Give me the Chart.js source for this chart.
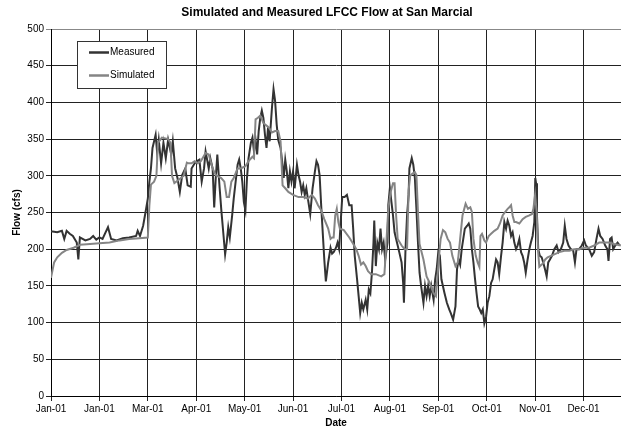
<!DOCTYPE html>
<html><head><meta charset="utf-8">
<script src="https://cdn.jsdelivr.net/npm/chart.js@4/dist/chart.umd.min.js"></script>
<style>html,body{margin:0;padding:0;background:#fff}#wrap{width:621px;height:431px}</style>
</head><body><div id="wrap"><canvas id="c" width="621" height="431"></canvas></div>
<script>
const chartTitle = 'Simulated and Measured LFCC Flow at San Marcial';
const xTitle = 'Date';
const yTitle = 'Flow (cfs)';
const xTickLabels = ['Jan-01','Jan-01','Mar-01','Apr-01','May-01','Jun-01','Jul-01','Aug-01','Sep-01','Oct-01','Nov-01','Dec-01'];
const tickStepDays = 31;
const yTicksMax = 500;

const measuredDays = [0,1,4,7,8.5,10,12,14,16.5,17.5,18.5,22,25,27,29,31,33,36.5,38.5,42,46,50,54.5,55.5,57,59,60.5,62,63,64,65,67,68,69,70.5,72,73.5,75,77,78,79.5,81,82.5,84,86,87.5,
89.5,90,92,93.5,95,96.5,98,99,101,102,103.5,104.5,105.5,106.5,108,109,110.5,111.5,112.5,113.5,114.5,116,117,118.5,119.5,120.5,121.5,122.5,123.5,124.5,125.5,126.5,128,129,130,131,132,133,134,135,136,137,138,139,140,141.5,142.5,143.5,144.5,145.5,147,148,149,150,151,152,153,154,155,156,157.5,158.5,159.5,160.5,161.5,162.5,163.5,164.5,166,167.5,169,170,171,172,173,174,175,176,177.5,179,180,
181,182.5,183.5,184.5,185.5,186.5,188,189.5,191,192.5,193.5,194.5,196,197,198,199,200,201.5,202.5,203.5,204.5,205.5,206.5,207,208,209,210,211,212,213,214,215.5,216,217,218,219,220,221,222,223,224.5,225.5,226,227,228,229,229.5,231,232,233,234,235,236,237,238.5,239.5,240.5,241.5,242.5,243.5,245,246,247,248,249,250,252,253.5,255,256,257.5,259,260,261,262,263,264,265,266.5,267.5,268.5,269.5,270.5,271.5,272.5,273.5,274.5,275.5,276.5,277.5,278.6,279.6,280.7,281.8,282.8,283.9,285,286,287,288.2,289.2,290.3,291.4,292.4,293.5,294.6,295.6,296.7,297.8,298.8,299.9,301,302,303,304,305.2,306.3,307.3,308.4,309.5,310.1,310.6,311.2,312,313,314.2,315.2,316.3,317.4,318.4,319.5,320.8,322.3,323.8,325,326.5,328,329,330.1,331.4,332.9,334.4,335.5,336.5,338.2,339.9,341.4,342.5,344.6,346.3,347.8,349.3,350.6,351.7,353.2,354.9,356.3,357,358,359,360,361.3,362.8,364.2];
const measuredFlow = [224,224,223,225,214,225,221,218,209,186,216,212,214,218,213,216,214,230,214,212,215,216,218,225,218,232,250,269,292,310,338,356,331,349,317,345,324,349,329,347,310,297,278,301,310,287,
285,310,317,320,322,292,310,333,310,324,310,257,297,329,283,255,218,193,209,230,216,246,269,297,315,322,310,292,264,253,297,324,345,352,333,349,329,361,379,389,379,356,338,366,347,393,418,402,370,349,338,320,297,322,306,283,306,292,306,283,315,301,292,278,287,274,283,269,248,283,306,320,315,301,260,223,186,156,182,202,194,
196,202,209,200,237,271,271,274,260,260,228,191,159,136,113,127,118,131,118,145,140,168,209,239,177,209,200,228,200,209,186,209,260,283,264,246,223,214,205,196,182,154,127,200,246,274,310,324,315,297,255,209,168,150,127,150,136,150,136,150,131,159,173,196,191,159,140,127,118,113,104,122,173,186,179,200,214,228,232,235,228,200,182,160,140,122,118,113,118,99,108,127,136,154,159,173,186,182,166,191,209,237,228,239,232,218,223,209,200,205,214,196,191,182,168,186,200,209,218,237,297,290,246,200,191,189,182,173,163,182,186,191,200,205,196,200,209,232,214,205,200,198,182,200,200,205,212,205,200,191,196,214,228,218,214,205,200,184,214,216,200,205,209,205];

const simulatedDays = [0,2,4,7,10,14.5,18.5,25,31,37.5,44,50,56.5,62,63,64,66,67.5,68.5,71,75,76.5,77.5,79,82,85,87,
88,90,92,94,96,99,101,103.5,105.5,109,111,112.5,114,115.5,117,119.5,121.5,124.5,126.5,129,130,131,132.5,134,136,137,139.5,141.5,143.5,145.5,147,148.3,150,152,155,158.5,161.5,164.5,167,169,171,173,175,177.5,179,180,
181,182,183,184,185,187.5,191,193,195.5,197,198.5,200,201.5,203,205,208,211.5,213.5,214.5,216,217.5,219,220,221,222,224.5,226.5,228,229,230,231.5,233,234,235,236,238.5,240.5,242.5,245,246.5,247.5,248.5,249.5,251,252.5,254,255.5,257,259,260.5,262,263.5,265.5,267,268.5,269.5,270.5,272,273.2,274.3,275,276,277.5,278.6,280.3,281.8,283.9,286,287.5,289.2,290.9,292.4,293.5,294.6,295.6,296.7,297.8,299.9,302,304,306.3,308,308.9,310,311,311.8,312.7,313.7,314.8,316.5,318,320.1,322.3,325.5,328.7,331.9,335,338.2,341.4,344.6,347.8,351,354.2,357.4,360.6,364.9];
const simulatedFlow = [161,182,189,195,199,202,206,207,208,209,212,214,215,216,260,288,292,300,345,352,350,345,300,290,295,300,318,
317,317,320,317,320,331,329,310,301,297,292,271,271,292,297,310,310,313,320,326,324,377,379,382,372,370,366,359,361,361,347,287,283,278,274,271,271,269,274,269,260,253,241,228,214,216,
216,246,255,237,228,226,216,209,200,191,179,182,177,170,166,166,163,166,200,255,278,290,290,246,214,205,200,200,280,300,303,305,301,250,207,186,163,154,140,136,163,191,214,226,223,214,209,191,177,182,214,246,262,255,257,251,214,191,182,176,218,221,212,209,218,221,225,228,235,246,251,255,257,260,246,237,237,235,241,244,246,248,255,274,251,200,176,178,180,186,189,191,193,196,198,198,200,200,202,202,205,209,209,209,207,205];

const FONT = "'Liberation Sans', Arial, sans-serif";
const toXY = (xs, ys) => xs.map((x, i) => ({x: x, y: ys[i]}));

const overlay = {
  id: 'overlay',
  afterDraw(chart) {
    const ctx = chart.ctx;
    ctx.save();
    ctx.fillStyle = '#000';
    ctx.font = 'bold 12px ' + FONT;
    ctx.textAlign = 'center';
    ctx.textBaseline = 'middle';
    ctx.fillText(chartTitle, 327, 13);
    // legend box
    ctx.fillStyle = '#fff';
    ctx.fillRect(77, 41, 89, 47);
    ctx.strokeStyle = '#333';
    ctx.lineWidth = 1;
    ctx.strokeRect(77.5, 41.5, 89, 47);
    const rows = [52.5, 75.5];
    ctx.font = '10px ' + FONT;
    ctx.textAlign = 'left';
    chart.data.datasets.forEach((ds, i) => {
      ctx.strokeStyle = ds.borderColor;
      ctx.lineWidth = 2.5;
      ctx.beginPath();
      ctx.moveTo(89, rows[i]);
      ctx.lineTo(109, rows[i]);
      ctx.stroke();
      ctx.fillStyle = '#000';
      ctx.fillText(ds.label, 110, rows[i]);
    });
    ctx.restore();
  }
};

new Chart(document.getElementById('c'), {
  type: 'line',
  data: {
    datasets: [
      {label: 'Measured', data: toXY(measuredDays, measuredFlow), borderColor: '#333333', borderWidth: 2, pointRadius: 0, tension: 0, fill: false, order: 2},
      {label: 'Simulated', data: toXY(simulatedDays, simulatedFlow), borderColor: '#858585', borderWidth: 2, pointRadius: 0, tension: 0, fill: false, order: 1}
    ]
  },
  options: {
    responsive: false,
    animation: false,
    devicePixelRatio: 1,
    layout: {padding: {top: 29, right: 0, left: 0, bottom: 0}},
    plugins: {legend: {display: false}, title: {display: false}, tooltip: {enabled: false}},
    scales: {
      x: {
        type: 'linear', min: 0, max: 365,
        afterFit: s => { s.height = 35; },
        grid: {color: '#222', lineWidth: 1, tickLength: 5, drawTicks: true},
        border: {color: '#000', width: 1},
        ticks: {
          stepSize: tickStepDays, includeBounds: false, autoSkip: false, maxRotation: 0, padding: 2,
          color: '#000', font: {family: FONT, size: 10},
          callback: v => { const i = Math.round(v / tickStepDays); return (Math.abs(v - i * tickStepDays) < 0.01 && xTickLabels[i]) ? xTickLabels[i] : ''; }
        },
        title: {display: true, text: xTitle, color: '#000', font: {family: FONT, size: 10, weight: 'bold'}, padding: {top: 0, bottom: 2}}
      },
      y: {
        min: 0, max: yTicksMax,
        afterFit: s => { s.width = 51; },
        grid: {color: c => (c.tick && c.tick.value === yTicksMax) ? '#888' : '#222', lineWidth: 1, tickLength: 5, drawTicks: true},
        border: {color: '#000', width: 1},
        ticks: {stepSize: 50, padding: 2, color: '#000', font: {family: FONT, size: 10}},
        title: {display: true, text: yTitle, color: '#000', font: {family: FONT, size: 10, weight: 'bold'}, padding: {top: 11, bottom: 0}}
      }
    }
  },
  plugins: [overlay]
});
</script>
</body></html>
